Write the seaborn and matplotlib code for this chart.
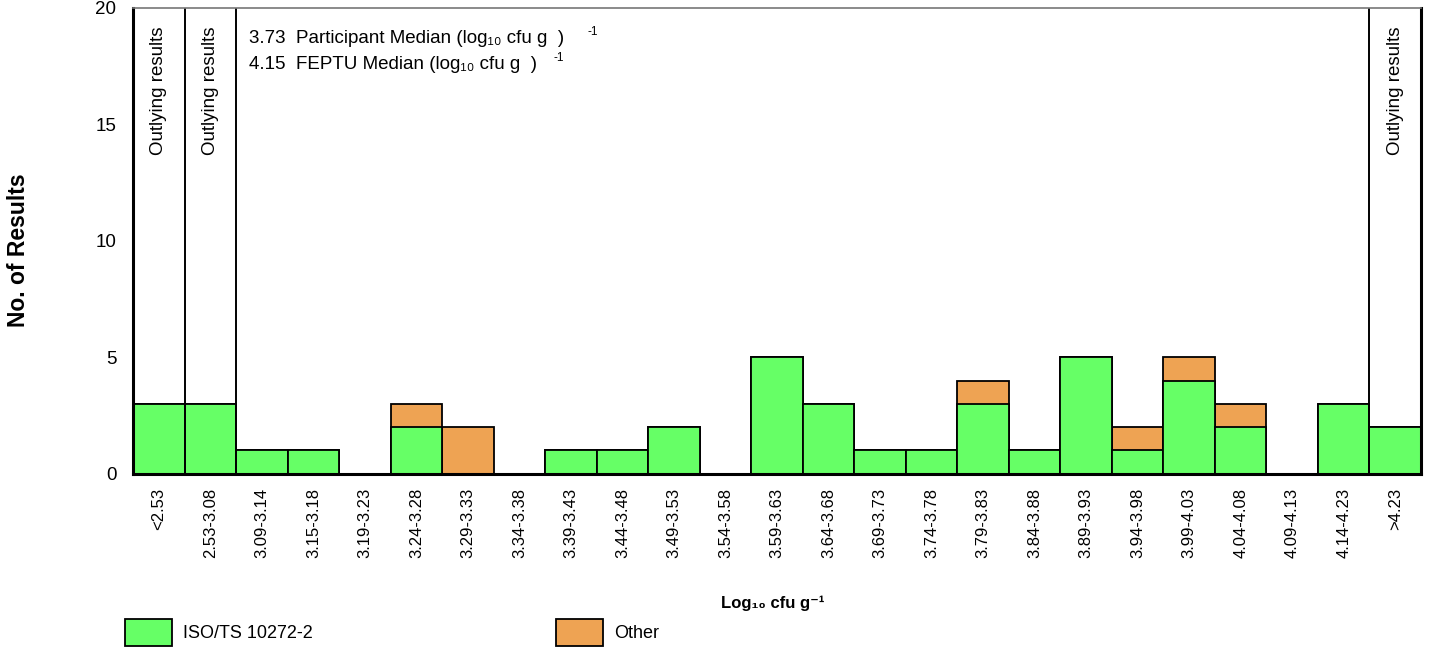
import matplotlib
matplotlib.use("Agg")
import matplotlib.pyplot as plt
from matplotlib.patches import Patch
import pandas as pd
import seaborn as sns

# data
bins = ["<2.53", "2.53-3.08", "3.09-3.14", "3.15-3.18", "3.19-3.23", "3.24-3.28",
        "3.29-3.33", "3.34-3.38", "3.39-3.43", "3.44-3.48", "3.49-3.53", "3.54-3.58",
        "3.59-3.63", "3.64-3.68", "3.69-3.73", "3.74-3.78", "3.79-3.83", "3.84-3.88",
        "3.89-3.93", "3.94-3.98", "3.99-4.03", "4.04-4.08", "4.09-4.13", "4.14-4.23",
        ">4.23"]
iso_counts = [3, 3, 1, 1, 0, 2, 0, 0, 1, 1, 2, 0, 5, 3, 1, 1, 3, 1, 5, 1, 4, 2, 0, 3, 2]
other_counts = [0, 0, 0, 0, 0, 1, 2, 0, 0, 0, 0, 0, 0, 0, 0, 0, 1, 0, 0, 1, 1, 1, 0, 0, 0]
outlier_bins = ["<2.53", "2.53-3.08", ">4.23"]
participant_median = 3.73
feptu_median = 4.15

GREEN = "#66FF66"
ORANGE = "#EEA353"

df = pd.DataFrame({"bin": bins, "iso": iso_counts, "other": other_counts})
df["total"] = df["iso"] + df["other"]

sns.set_style("white")
plt.rcParams["font.family"] = ["Liberation Sans", "DejaVu Sans"]
plt.rcParams["text.color"] = "black"
plt.rcParams["xtick.color"] = "black"
plt.rcParams["ytick.color"] = "black"

fig = plt.figure(figsize=(14.31, 6.49), dpi=100)
ax = fig.add_axes([0.093, 0.270, 0.900, 0.718])

sns.barplot(data=df, x="bin", y="total", color=ORANGE, saturation=1, width=1.0,
            edgecolor="black", linewidth=1.3, ax=ax)
sns.barplot(data=df, x="bin", y="iso", color=GREEN, saturation=1, width=1.0,
            edgecolor="black", linewidth=1.3, ax=ax)

ax.set_xlim(-0.5, len(bins) - 0.5)
ax.set_ylim(0, 20)
ax.set_yticks([0, 5, 10, 15, 20])
ax.tick_params(axis="y", labelsize=13.5, length=0, pad=12)
ax.tick_params(axis="x", labelsize=12, length=0, pad=10, labelrotation=90)
ax.set_xlabel("")
ax.set_ylabel("")

for side in ["left", "right", "bottom"]:
    ax.spines[side].set_color("black")
    ax.spines[side].set_linewidth(2.2)
ax.spines["top"].set_color("#777777")
ax.spines["top"].set_linewidth(1.2)

# outlying result separators and labels
for b in outlier_bins:
    i = bins.index(b)
    edge = i + 0.5 if i < len(bins) / 2 else i - 0.5
    ax.axvline(edge, color="black", linewidth=1.4)
    ax.text(i, 19.2, "Outlying results", rotation=90, ha="center", va="top",
            fontsize=13.5)

# medians
ax.text(0.09, 0.935, f"{participant_median:.2f}  Participant Median (log\u2081\u2080 cfu g  )",
        transform=ax.transAxes, fontsize=13.5, va="center")
ax.text(0.09, 0.879, f"{feptu_median:.2f}  FEPTU Median (log\u2081\u2080 cfu g  )",
        transform=ax.transAxes, fontsize=13.5, va="center")
ax.text(0.3525, 0.948, "-1", transform=ax.transAxes, fontsize=8.5, va="center")
ax.text(0.3265, 0.892, "-1", transform=ax.transAxes, fontsize=8.5, va="center")

fig.text(0.013, 0.615, "No. of Results", rotation=90, ha="center", va="center",
         fontsize=16.5, fontweight="bold")
fig.text(0.54, 0.071, "Log\u2081\u2080 cfu g\u207b\u00b9", ha="center", va="center",
         fontsize=12, fontweight="bold")

handles = [Patch(facecolor=GREEN, edgecolor="black", linewidth=1.3, label="ISO/TS 10272-2"),
           Patch(facecolor=ORANGE, edgecolor="black", linewidth=1.3, label="Other")]
fig.legend(handles=handles, loc="lower left", bbox_to_anchor=(0.076, -0.02), ncol=2,
           frameon=False, fontsize=13, handlelength=2.6, handleheight=1.9,
           handletextpad=0.6, columnspacing=13.5)

fig.savefig("out.png", dpi=100)
